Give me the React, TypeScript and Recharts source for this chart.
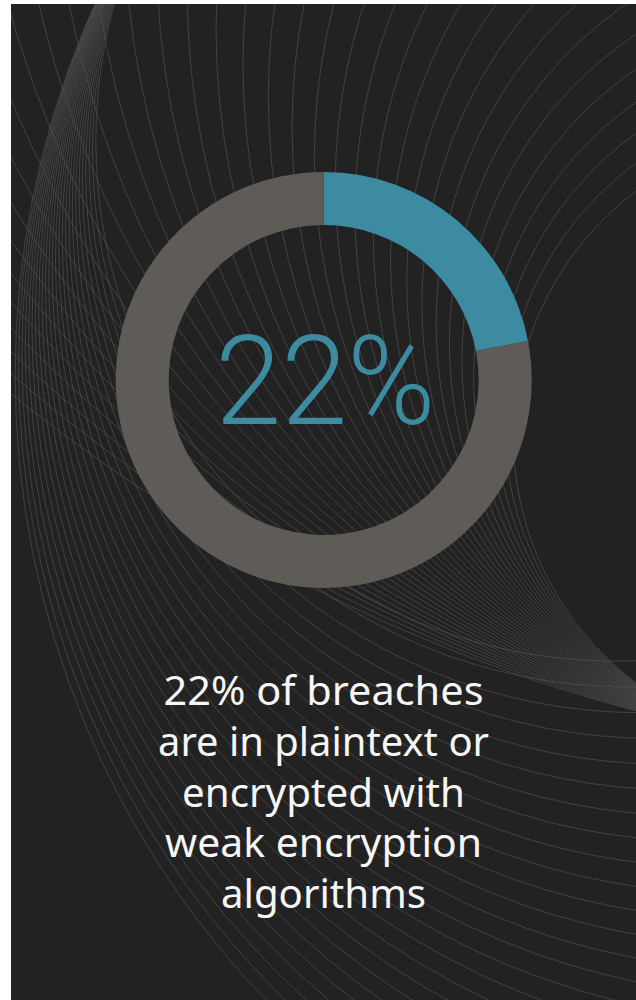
import { Cell, Pie, PieChart } from "recharts";

// breach share shown by the ring
const segments = ["Plaintext or weak encryption", "Other breaches"];
const shares = [22, 78];
const centerText = "22%";
const captionLines = [
  "22% of breaches",
  "are in plaintext or",
  "encrypted with",
  "weak encryption",
  "algorithms"
];

const sliceColors = ["#3d8ba1", "#5f5c57"];
const captionWidths = [320, 331, 283, 317, 205];
const BG = "#222222";
const PIE_CX = 312.7;
const PIE_CY = 376;

type Ring = { cx: number; cy: number; r: number };

// background swirl: two families of thin circles (page coordinates)
function swirlRings(): Ring[] {
  const rings: Ring[] = [];
  // circles meeting near the lower right edge
  for (let k = 0; k < 36; k++) {
    const r = 308 * Math.pow(1.05, k);
    const a = ((53 + (22 * k) / 35) * Math.PI) / 180;
    const by = 683 + 0.8 * k;
    rings.push({ cx: 636 + r * Math.cos(a), cy: by - r * Math.sin(a), r });
  }
  // circles hugging the left edge
  for (let r = 520; r <= 912; r += 16) {
    rings.push({ cx: 205 + 0.79 * r, cy: -176 + 0.61 * r, r });
  }
  return rings;
}

export default function App() {
  const data = segments.map((name, i) => ({ name, value: shares[i] }));
  const rings = swirlRings();

  return (
    <div
      style={{
        position: "absolute",
        left: 11,
        top: 4,
        width: 625,
        height: 996,
        background: BG,
        overflow: "hidden"
      }}
    >
      <svg
        width={625}
        height={996}
        viewBox="11 4 625 996"
        style={{ position: "absolute", left: 0, top: 0 }}
      >
        {rings.map((c, i) => (
          <circle
            key={i}
            cx={c.cx}
            cy={c.cy}
            r={c.r}
            fill="none"
            stroke="#505050"
            strokeWidth={0.7}
          />
        ))}
        {captionLines.map((line, i) => (
          <text
            key={line}
            x={323.5}
            y={705 + i * 50.8}
            textAnchor="middle"
            fill="#f6f6f6"
            fontFamily="'Noto Sans', sans-serif"
            fontSize={40}
            textLength={captionWidths[i]}
            lengthAdjust="spacingAndGlyphs"
          >
            {line}
          </text>
        ))}
      </svg>
      <div style={{ position: "absolute", left: 0, top: 0 }}>
        <PieChart width={625} height={996} margin={{ top: 0, right: 0, bottom: 0, left: 0 }}>
          <Pie
            data={data}
            dataKey="value"
            nameKey="name"
            cx={PIE_CX}
            cy={PIE_CY}
            innerRadius={155}
            outerRadius={208}
            startAngle={90}
            endAngle={-270}
            stroke="none"
            isAnimationActive={false}
          >
            {data.map((d, i) => (
              <Cell key={d.name} fill={sliceColors[i]} />
            ))}
          </Pie>
          <text
            x={PIE_CX + 1.5}
            y={PIE_CY + 44}
            textAnchor="middle"
            fill={sliceColors[0]}
            fontFamily="Roboto, 'Noto Sans', sans-serif"
            fontWeight={300}
            fontSize={124}
            textLength={220}
            lengthAdjust="spacingAndGlyphs"
          >
            {centerText}
          </text>
        </PieChart>
      </div>
    </div>
  );
}
